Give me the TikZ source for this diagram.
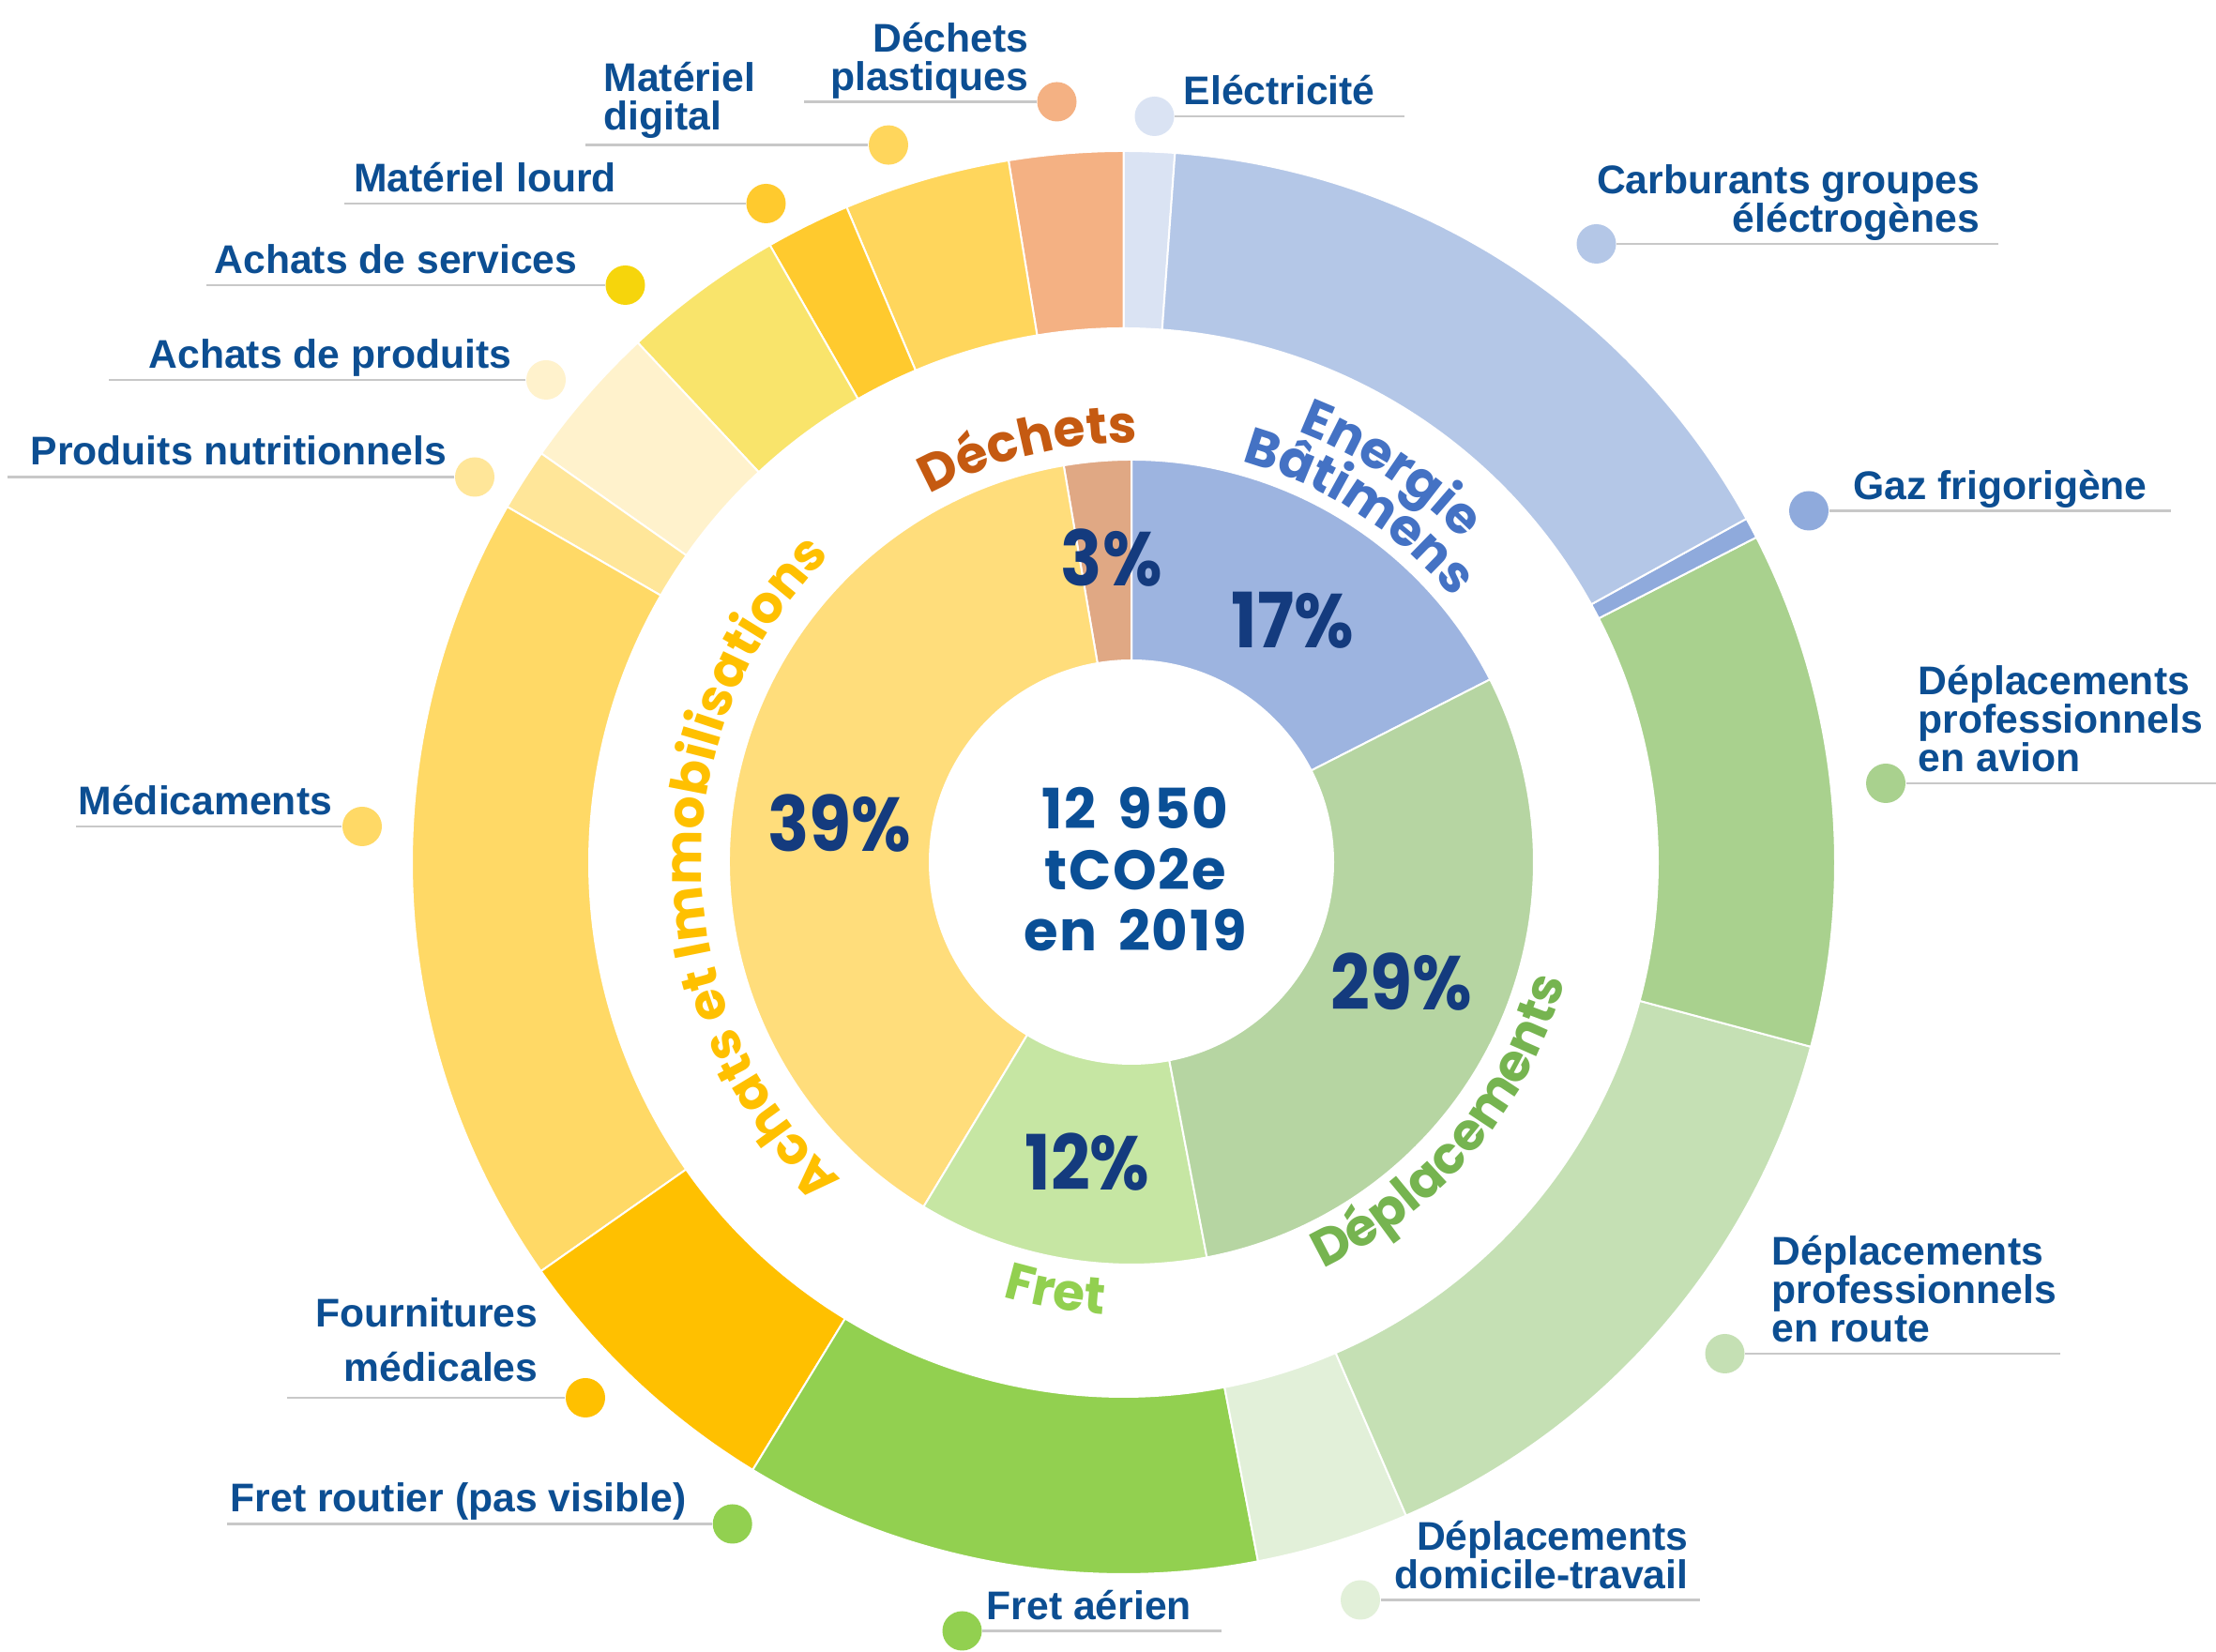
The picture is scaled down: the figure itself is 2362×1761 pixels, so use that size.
\documentclass[tikz,border=0pt]{standalone}
\usepackage{fontspec}
\setmainfont{Liberation Sans}
\newfontfamily\geofont[FakeStretch=0.9]{Poppins}
\newfontfamily\totfont[LetterSpace=3, WordSpace=1.6]{Poppins}
\newfontfamily\catfont{Poppins}
\usetikzlibrary{decorations.text}
\definecolor{labelCol}{HTML}{0C4E92}
\definecolor{pctCol}{HTML}{143B7E}
\definecolor{centerCol}{HTML}{0A4F96}
\definecolor{leaderCol}{HTML}{C8C8C8}
\definecolor{energieCol}{HTML}{9DB4E0}
\definecolor{deplCol}{HTML}{B6D5A2}
\definecolor{fretCol}{HTML}{C6E6A3}
\definecolor{achatsCol}{HTML}{FFDD7B}
\definecolor{dechetsCol}{HTML}{E0A884}
\definecolor{elecCol}{HTML}{DAE3F3}
\definecolor{carbCol}{HTML}{B4C7E7}
\definecolor{gazCol}{HTML}{8FAADC}
\definecolor{avionCol}{HTML}{A9D18E}
\definecolor{routeCol}{HTML}{C5E0B4}
\definecolor{domicCol}{HTML}{E2F0D9}
\definecolor{fretaerCol}{HTML}{92D050}
\definecolor{fournCol}{HTML}{FFC000}
\definecolor{medicCol}{HTML}{FFD966}
\definecolor{nutriCol}{HTML}{FFE699}
\definecolor{produitsCol}{HTML}{FFF2CC}
\definecolor{servicesCol}{HTML}{F9E46B}
\definecolor{servdotCol}{HTML}{F6D50C}
\definecolor{lourdCol}{HTML}{FFCA2E}
\definecolor{digitalCol}{HTML}{FFD65C}
\definecolor{plastCol}{HTML}{F4B183}
\definecolor{dechetsTxt}{HTML}{C55A11}
\definecolor{energieTxt}{HTML}{4472C4}
\definecolor{deplTxt}{HTML}{76B450}
\definecolor{fretTxt}{HTML}{92D050}
\definecolor{achatsTxt}{HTML}{FFC000}
\tikzset{
  lbl/.style={font=\fontsize{12.8}{12.3}\selectfont\bfseries, text=labelCol, inner sep=0pt, align=left},
  dot/.style={circle, minimum size=12.6pt, inner sep=0pt},
  leader/.style={draw=leaderCol, line width=0.8pt},
  pct/.style={font=\geofont\bfseries\fontsize{24.4}{24.4}\selectfont, text=pctCol, inner sep=0pt},
  sep/.style={draw=white, line width=0.6pt}
}
\newcommand\ringpart[3]{\fill[fill=#1, sep] (#2:569.5) arc[start angle=#2, end angle=#3, radius=569.5] -- (#3:758.5) arc[start angle=#3, end angle=#2, radius=758.5] -- cycle;}
\newcommand\piepart[3]{\fill[fill=#1, sep] (0,0) -- (#2:429) arc[start angle=#2, end angle=#3, radius=429] -- cycle;}
\begin{document}
\begin{tikzpicture}[x=0.3pt, y=0.3pt]
\useasboundingbox (0,0) rectangle (2362,1761);
\fill[white] (0,0) rectangle (2362,1761);
\begin{scope}[shift={(1197.5,841.5)}]
\foreach \col/\a/\b in {elecCol/85.85/90, plastCol/90/99.3, digitalCol/99.3/112.9, lourdCol/112.9/119.8, servicesCol/119.8/133.05, produitsCol/133.05/144.9, nutriCol/144.9/150, medicCol/150/215.05, fournCol/215.05/238.6, fretaerCol/238.6/280.9, domicCol/280.9/293.4, routeCol/293.4/345, avionCol/345/387.2, gazCol/387.2/388.9, carbCol/28.9/85.85}
  {\ringpart{\col}{\a}{\b}}
\end{scope}
\begin{scope}[shift={(1206,842)}]
\piepart{energieCol}{27}{90}
\piepart{dechetsCol}{90}{99.7}
\piepart{achatsCol}{99.7}{238.9}
\piepart{fretCol}{238.9}{280.8}
\piepart{deplCol}{280.8}{387}
\fill[white] (0,0) circle[radius=216];
\path[decorate, decoration={text along path, text align=center, text={|\catfont\bfseries\fontsize{16.5}{16.5}\selectfont\color{dechetsTxt}|Déchets}}] (130:447) arc[start angle=130, end angle=78, radius=447];
\path[decorate, decoration={text along path, text align=center, text={|\catfont\bfseries\fontsize{16.5}{16.5}\selectfont\color{energieTxt}|Energie}}] (80:492) arc[start angle=80, end angle=33, radius=492];
\path[decorate, decoration={text along path, text align=center, text={|\catfont\bfseries\fontsize{16.5}{16.5}\selectfont\color{energieTxt}|Bâtimens}}] (82:443) arc[start angle=82, end angle=32, radius=443];
\path[decorate, decoration={text along path, text align=center, text={|\catfont\bfseries\fontsize{16.5}{16.5}\selectfont\color{achatsTxt}|Achats et Immobilisations}}] (240:458) arc[start angle=240, end angle=122, radius=458];
\path[decorate, decoration={text along path, text align=center, text={|\catfont\bfseries\fontsize{16.5}{16.5}\selectfont\color{deplTxt}|Déplacements}}] (-72:479) arc[start angle=-72, end angle=-8, radius=479];
\path[decorate, decoration={text along path, text align=center, text={|\catfont\bfseries\fontsize{16.5}{16.5}\selectfont\color{fretTxt}|Fret}}] (-120:483) arc[start angle=-120, end angle=-80, radius=483];
\end{scope}
\node[font=\totfont\bfseries\fontsize{17.8}{19.5}\selectfont, text=centerCol, align=center] (total) at (1210,834) {12 950\\tCO2e\\en 2019};
\node[pct] (pctdechets) at (1184.7,1166.5) {3\%};
\node[pct] (pctenergie) at (1378,1099.5) {17\%};
\node[pct] (pctachats) at (894.5,883) {39\%};
\node[pct] (pctdepl) at (1494,714) {29\%};
\node[pct] (pctfret) at (1159,522.4) {12\%};
\node[dot, fill=plastCol] (plastdot) at (1126.5,1652.5) {};
\coordinate (plastend) at (857,1652.5);
\draw[leader] (plastdot) -- (plastend);
\node[lbl, align=right, anchor=base east] (plasttxt) at (1097,1664.5) {Déchets\\plastiques};
\node[dot, fill=digitalCol] (digitaldot) at (947,1606.4) {};
\coordinate (digitalend) at (624,1606.4);
\draw[leader] (digitaldot) -- (digitalend);
\node[lbl, anchor=base west] (digitaltxt) at (643,1622) {Matériel\\digital};
\node[dot, fill=lourdCol] (lourddot) at (816.5,1544) {};
\coordinate (lourdend) at (367,1544);
\draw[leader] (lourddot) -- (lourdend);
\node[lbl, anchor=base west] (lourdtxt) at (376.5,1556) {Matériel lourd};
\node[dot, fill=servdotCol] (servicesdot) at (666.5,1457) {};
\coordinate (servicesend) at (219.6,1457);
\draw[leader] (servicesdot) -- (servicesend);
\node[lbl, anchor=base west] (servicestxt) at (228,1469) {Achats de services};
\node[dot, fill=produitsCol] (produitsdot) at (582,1356) {};
\coordinate (produitsend) at (116,1356);
\draw[leader] (produitsdot) -- (produitsend);
\node[lbl, anchor=base west] (produitstxt) at (158,1368) {Achats de produits};
\node[dot, fill=nutriCol] (nutridot) at (506,1252.5) {};
\coordinate (nutriend) at (7.6,1252.5);
\draw[leader] (nutridot) -- (nutriend);
\node[lbl, anchor=base west] (nutritxt) at (32,1265) {Produits nutritionnels};
\node[dot, fill=medicCol] (medicdot) at (386,880) {};
\coordinate (medicend) at (81,880);
\draw[leader] (medicdot) -- (medicend);
\node[lbl, anchor=base west] (medictxt) at (83,892.5) {Médicaments};
\node[dot, fill=fournCol] (fourndot) at (624,271) {};
\coordinate (fournend) at (306,271);
\draw[leader] (fourndot) -- (fournend);
\node[lbl, align=right, anchor=base east, font=\fontsize{12.8}{17.4}\selectfont\bfseries] (fourntxt) at (574,288) {Fournitures\\médicales};
\node[dot, fill=fretaerCol] (fretroutdot) at (780.7,136.5) {};
\coordinate (fretroutend) at (242,136.5);
\draw[leader] (fretroutdot) -- (fretroutend);
\node[lbl, anchor=base west] (fretrouttxt) at (245,149) {Fret routier (pas visible)};
\node[dot, fill=fretaerCol] (fretaerdot) at (1025.5,22.5) {};
\coordinate (fretaerend) at (1302,22.5);
\draw[leader] (fretaerdot) -- (fretaerend);
\node[lbl, anchor=base west] (fretaertxt) at (1051,34) {Fret aérien};
\node[dot, fill=domicCol] (domicdot) at (1450,55.5) {};
\coordinate (domicend) at (1811.6,55.5);
\draw[leader] (domicdot) -- (domicend);
\node[lbl, align=right, anchor=base east] (domictxt) at (1800,67.5) {Déplacements\\domicile-travail};
\node[dot, fill=routeCol] (routedot) at (1838.5,318) {};
\coordinate (routeend) at (2196,318);
\draw[leader] (routedot) -- (routeend);
\node[lbl, anchor=base west] (routetxt) at (1888,330) {Déplacements\\professionnels\\en route};
\node[dot, fill=avionCol] (aviondot) at (2010,926) {};
\coordinate (avionend) at (2362,926);
\draw[leader] (aviondot) -- (avionend);
\node[lbl, anchor=base west] (aviontxt) at (2044,938) {Déplacements\\professionnels\\en avion};
\node[dot, fill=gazCol] (gazdot) at (1928,1216.5) {};
\coordinate (gazend) at (2313.7,1216.5);
\draw[leader] (gazdot) -- (gazend);
\node[lbl, anchor=base west] (gaztxt) at (1975,1228.5) {Gaz frigorigène};
\node[dot, fill=carbCol] (carbdot) at (1701.5,1501) {};
\coordinate (carbend) at (2129.7,1501);
\draw[leader] (carbdot) -- (carbend);
\node[lbl, align=right, anchor=base east] (carbtxt) at (2110.6,1513) {Carburants groupes\\éléctrogènes};
\node[dot, fill=elecCol] (elecdot) at (1230.5,1637) {};
\coordinate (elecend) at (1497,1637);
\draw[leader] (elecdot) -- (elecend);
\node[lbl, anchor=base west] (electxt) at (1261,1649) {Eléctricité};
\end{tikzpicture}
\end{document}
